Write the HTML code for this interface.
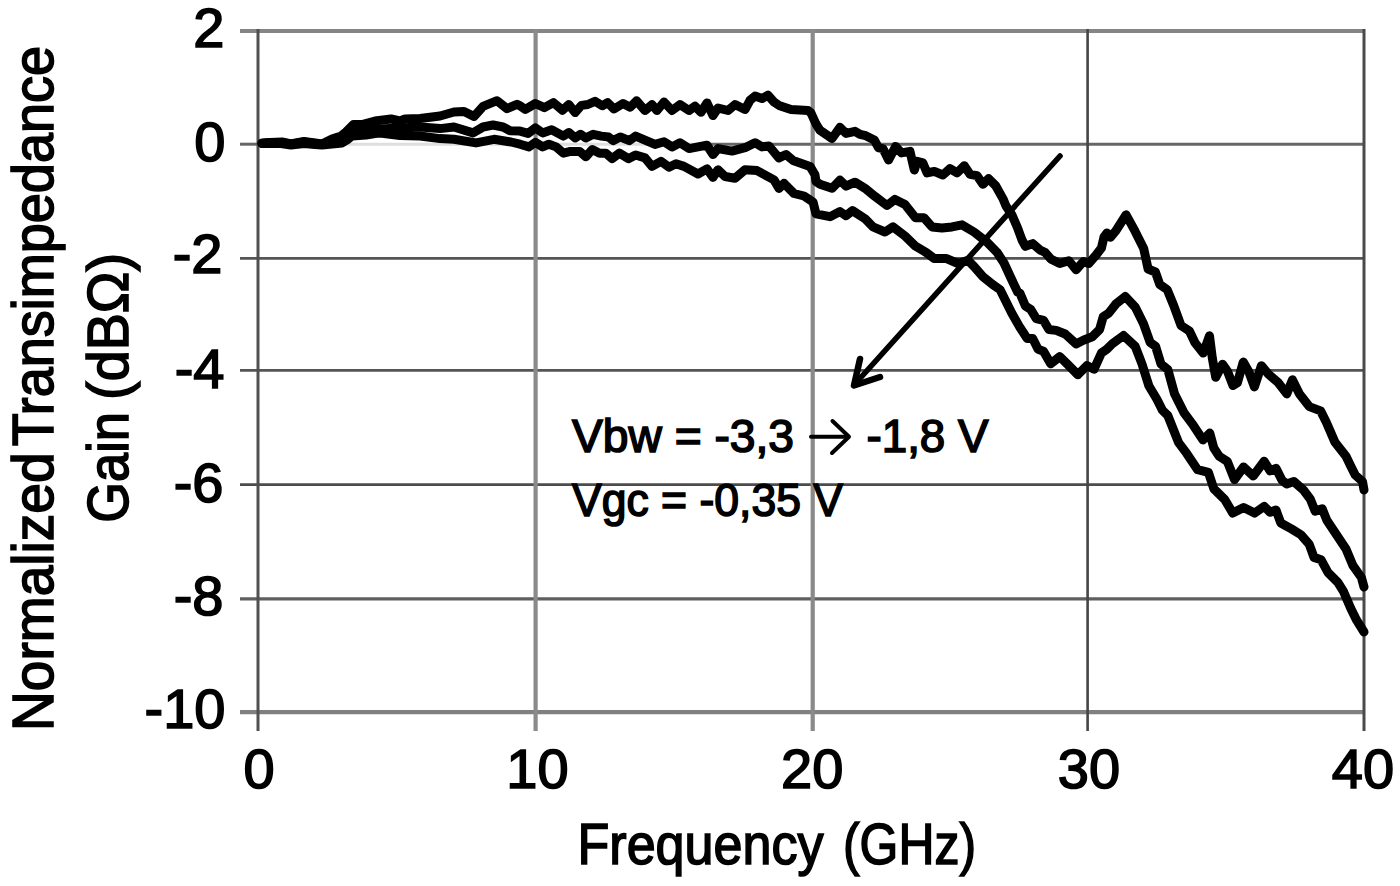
<!DOCTYPE html>
<html><head><meta charset="utf-8"><style>
html,body{margin:0;padding:0;background:#fff;}
body{width:1400px;height:886px;overflow:hidden;}
svg{display:block;}
text{font-family:"Liberation Sans",sans-serif;fill:#000;stroke:#000;stroke-width:1.6px;}
</style></head><body>
<svg width="1400" height="886" viewBox="0 0 1400 886">
<rect width="1400" height="886" fill="#fff"/>
<g fill="none">
<line x1="240" y1="31" x2="1365" y2="31" stroke="#858585" stroke-width="4.2"/>
<line x1="240" y1="144.2" x2="262" y2="144.2" stroke="#666" stroke-width="3"/>
<line x1="262" y1="144.2" x2="705" y2="144.2" stroke="#dedede" stroke-width="3"/>
<line x1="705" y1="144.2" x2="1365" y2="144.2" stroke="#666" stroke-width="3"/>
<line x1="240" y1="258.4" x2="1365" y2="258.4" stroke="#555" stroke-width="2.6"/>
<line x1="240" y1="370.4" x2="1365" y2="370.4" stroke="#555" stroke-width="2.8"/>
<line x1="240" y1="484.6" x2="1365" y2="484.6" stroke="#4c4c4c" stroke-width="2.6"/>
<line x1="240" y1="598.9" x2="1365" y2="598.9" stroke="#5f5f5f" stroke-width="3.2"/>
<line x1="240" y1="712.2" x2="1365" y2="712.2" stroke="#808080" stroke-width="4.2"/>
<line x1="258" y1="29" x2="258" y2="731" stroke="#505050" stroke-width="3"/>
<line x1="535.6" y1="29" x2="535.6" y2="731" stroke="#8a8a8a" stroke-width="4.2"/>
<line x1="812.7" y1="29" x2="812.7" y2="731" stroke="#8a8a8a" stroke-width="4.2"/>
<line x1="1087.6" y1="29" x2="1087.6" y2="731" stroke="#454545" stroke-width="2.6"/>
<line x1="1364" y1="29" x2="1364" y2="731" stroke="#4a4a4a" stroke-width="3"/>
</g>
<g fill="none" stroke="#000" stroke-width="9" stroke-linejoin="round" stroke-linecap="round">
<polyline points="262,143 270,142.5 282,142 291,144 304,141.5 315,143 322,144 332,139 341,136 346,132 353.5,124.5 362,124.5 375,121 391,119 400,121 405,119 420,118.5 440,116 454,112 464,111.4 474,116.4 483,106.4 497,100.7 507,108.6 517,104.3 520,105.8 525.4,109.4 535.4,103.5 544.4,107.6 553.4,102.6 562.5,110.3 568.8,104.5 575.1,112.6 581.4,105.4 587.8,104.5 595,101.3 602.2,105.8 607.6,102.6 614,109 623,103.5 630.2,107.2 636.5,100.8 645,110.5 652,104.6 657,110.5 664,102 672,110.5 680,104.6 689,110.5 695,106.2 701,112.2 707,102.9 713,115.6 718,108 728,110.5 735,104.6 745,109.6 750,100.3 755,96.1 762,98.6 768,95.2 774,102 779,105.4 791,109.6 808,110.5 811,113 816,124 820,130.3 832,138.5 840,127.3 846,133.4 855,131.3 860,134.3 865.7,135.7 874.3,140 878.6,147.9 882.9,148.6 888.6,160 895.7,146.4 901.4,152.9 910,151.4 914.3,170 917.1,161.4 922.9,162.9 927.1,172.9 934.3,171.4 942.9,175 950,168.6 957.1,172.9 964.3,165.7 970,174.3 977.1,175.7 982.9,184.3 988.6,178.6 995.7,185.7 1002.9,198.6 1006,206 1012,215 1017.6,228 1022,240 1025.4,246.3 1032.7,243.6 1039.9,249.9 1045.3,252.6 1050.7,258.9 1059.8,263.5 1068.8,260.7 1076.1,269.8 1083.3,261.6 1088.7,263.5 1095.9,255.3 1101.4,248.1 1104,237 1107,233 1110.4,237.2 1115.8,230.9 1126.1,214.8 1134.9,230.9 1143.7,248.5 1148.1,269 1155.4,272 1159.8,284.5 1167.2,289.6 1173.5,305 1181,325.5 1189.4,331 1195,342.7 1203.3,353.1 1209.5,335.8 1212.3,358 1215.7,377.3 1222.6,364.2 1227.5,371.4 1233,385.6 1237.4,382.7 1243.3,362.1 1248.7,371.4 1254.4,386.9 1261.4,365.7 1268.4,374.2 1278.3,382.7 1286.8,393.9 1292.4,379.8 1299.5,393.9 1309.3,406.6 1320.6,410.9 1326.3,422.2 1334.8,441.9 1346,456.3 1350.7,466 1355.2,475 1362.5,481.5 1364,490"/>
<polyline points="262,143.5 270,142.5 281,142.5 291,144 304,142 315,143.5 322,144.5 332,141 341,138 350,132 365,129 380,129 400,128 420,127 440,128.6 454,127 473,132.9 483,127 493,125 503,127 510,130.7 520,131.1 528.1,133.4 535.4,127.9 542.6,132.9 551.6,129.7 563.4,136.1 568.8,132.5 575.1,137.9 580.5,134.3 585.9,137.9 593.2,134.3 601.3,136.1 608.5,137 613,140.6 620.3,137 629.3,140.6 635.6,136.1 655,144.4 664,141.8 672,146.9 680,142.7 689,148.6 698,146.9 707,145.2 713,154.5 718,148.6 732,151.1 745,147.7 755,142.7 762,146.9 769,146 776,154.5 779,157.9 786,154.5 793,160.4 810,166.4 815,174.8 816,181.6 820,184.2 832,188.3 840,180.1 846,186.2 855,182.2 865,188.3 875,196.4 887,205.5 895,199.4 905,204.5 915.5,217.7 924,217.7 932,226.9 942,227.9 952,226.9 962,224.8 974,232 987,242.1 997,252.3 1004,263 1010,276 1017.6,292 1020,293.3 1025.4,306 1030.8,309.6 1036.3,318.6 1043.5,320.4 1048.9,329.5 1056.2,330.4 1065.2,334 1076.1,343.9 1083.3,340.3 1092.3,336.7 1099.6,329.5 1103.2,316.8 1108.6,313.2 1115.8,304.1 1125.3,296.5 1135.2,307.1 1143.4,323.4 1150.1,342.3 1155.6,346.4 1161,364 1167.8,369.4 1174.5,393.8 1184,412.8 1192.1,423.6 1203,439.9 1209.8,433.1 1213.8,448 1219.2,456.2 1227.4,461.6 1234.5,479.5 1243.6,467 1253.2,476 1264.2,461.3 1270.1,470.8 1276,468.4 1282,480.3 1286.7,483.9 1293.8,481.5 1303.3,489.8 1310.4,499.3 1315.1,511.1 1322.2,508.8 1327,520.6 1336.5,534.8 1346,549 1353,565.7 1361.4,577.5 1364,587"/>
<polyline points="262,143.5 270,143.5 281,143.5 291,145 304,143.5 315,144.5 322,145 332,144 342,143 347,140 352,136 366,135 375,133.5 380,133 400,135.5 420,136 440,138.6 454,139.3 476,142.9 494,139.3 511,142 520,144.2 529,146.9 535.4,142.4 542.6,146.9 548.9,144.2 556.1,146.9 563.4,153.2 570.6,151.4 579.6,151.4 585.9,156.8 592.3,149.6 599.5,153.2 605.8,153.2 612.1,158.7 619.4,153.2 628.4,158.7 635.6,155 645,157.9 652,166.4 661,161.3 669,167.2 676,163.8 684,166.4 698,174 707,168.9 713,177.4 718,169.8 725,176.5 735,178.2 745,169.8 757,170.6 774,179.9 779,188.4 784,183.3 794,193.5 804,196 813,201.9 816,213.8 830,216.7 840,211.6 846,215.7 852.5,210.6 865,218.7 873,226.9 885,232 893,226.9 905,236 915.5,246.2 926,252.3 934,258.4 946,258.4 958,263.5 968,260.4 974,266.5 983,276.7 993,284.8 1000,289.6 1011.7,313 1020,327.6 1027.2,338.5 1032.7,338.5 1038.1,349.3 1043.5,351.2 1050.7,363.8 1059.8,356.6 1067,363.8 1077.9,374.7 1086.9,365.6 1094.1,369.2 1101.4,353 1106.8,349.3 1112.2,343.9 1123.5,335.5 1135.2,346.4 1142,364 1148.8,385.7 1156.9,399.2 1162.3,410.1 1167.8,415.5 1178.6,442.6 1186.7,453.4 1197.6,469.7 1208.4,472.4 1213.8,488.7 1224.7,499.5 1232.8,513.1 1243.6,507.6 1254.5,513.1 1264.2,506.4 1270.1,512.3 1276,510 1280.8,523 1291.4,528.9 1300.9,534.8 1309.2,544.3 1314,557.4 1321,559.7 1328.2,572.8 1337.7,582.2 1343.6,591.7 1350.7,608.3 1356.6,620.2 1364,632"/>
</g>
<g stroke="#000" fill="none" stroke-linecap="round">
<line x1="1060" y1="156" x2="855" y2="384" stroke-width="5.6"/>
<polyline points="860,359 854,385.5 880,377" stroke-width="6.5" stroke-linejoin="round"/>
</g>
<g font-size="56">
<text x="224.5" y="46.6" text-anchor="end">2</text>
<text x="225.5" y="160.6" text-anchor="end">0</text>
<text x="222.5" y="273.0" text-anchor="end">-2</text>
<text x="224.5" y="388.2" text-anchor="end">-4</text>
<text x="223.5" y="501.7" text-anchor="end">-6</text>
<text x="223.5" y="615.2" text-anchor="end">-8</text>
<text x="225.5" y="728.2" text-anchor="end">-10</text>
<text x="259" y="788.2" text-anchor="middle">0</text>
<text x="537.5" y="788.2" text-anchor="middle">10</text>
<text x="812.2" y="788.2" text-anchor="middle">20</text>
<text x="1089" y="788.2" text-anchor="middle">30</text>
<text x="1363" y="788.2" text-anchor="middle">40</text>
</g>
<text x="577.5" y="863.8" font-size="57" textLength="246" lengthAdjust="spacingAndGlyphs">Frequency</text>
<text x="843" y="863.8" font-size="57" textLength="133" lengthAdjust="spacingAndGlyphs">(GHz)</text>
<text transform="translate(52.6,731) rotate(-90)" font-size="57" textLength="278.6" lengthAdjust="spacingAndGlyphs">Normalized</text>
<text transform="translate(52.6,446.2) rotate(-90)" font-size="57" textLength="400.2" lengthAdjust="spacingAndGlyphs">Transimpedance</text>
<text transform="translate(127.8,522.7) rotate(-90)" font-size="57" textLength="110.7" lengthAdjust="spacingAndGlyphs">Gain</text>
<text transform="translate(127.8,399.9) rotate(-90)" font-size="57" textLength="147" lengthAdjust="spacingAndGlyphs">(dBΩ)</text>
<text x="572" y="451.5" font-size="46" textLength="222" lengthAdjust="spacingAndGlyphs">Vbw = -3,3</text>
<text x="866.5" y="451.5" font-size="46" textLength="122" lengthAdjust="spacingAndGlyphs">-1,8 V</text>
<g stroke="#000" stroke-width="4" fill="none" stroke-linecap="round" stroke-linejoin="round"><line x1="811" y1="436.7" x2="848" y2="436.7"/><polyline points="832.5,421 849,436.7 832,453"/></g>
<text x="572" y="516" font-size="46" textLength="271" lengthAdjust="spacingAndGlyphs">Vgc = -0,35 V</text>
</svg>
</body></html>
